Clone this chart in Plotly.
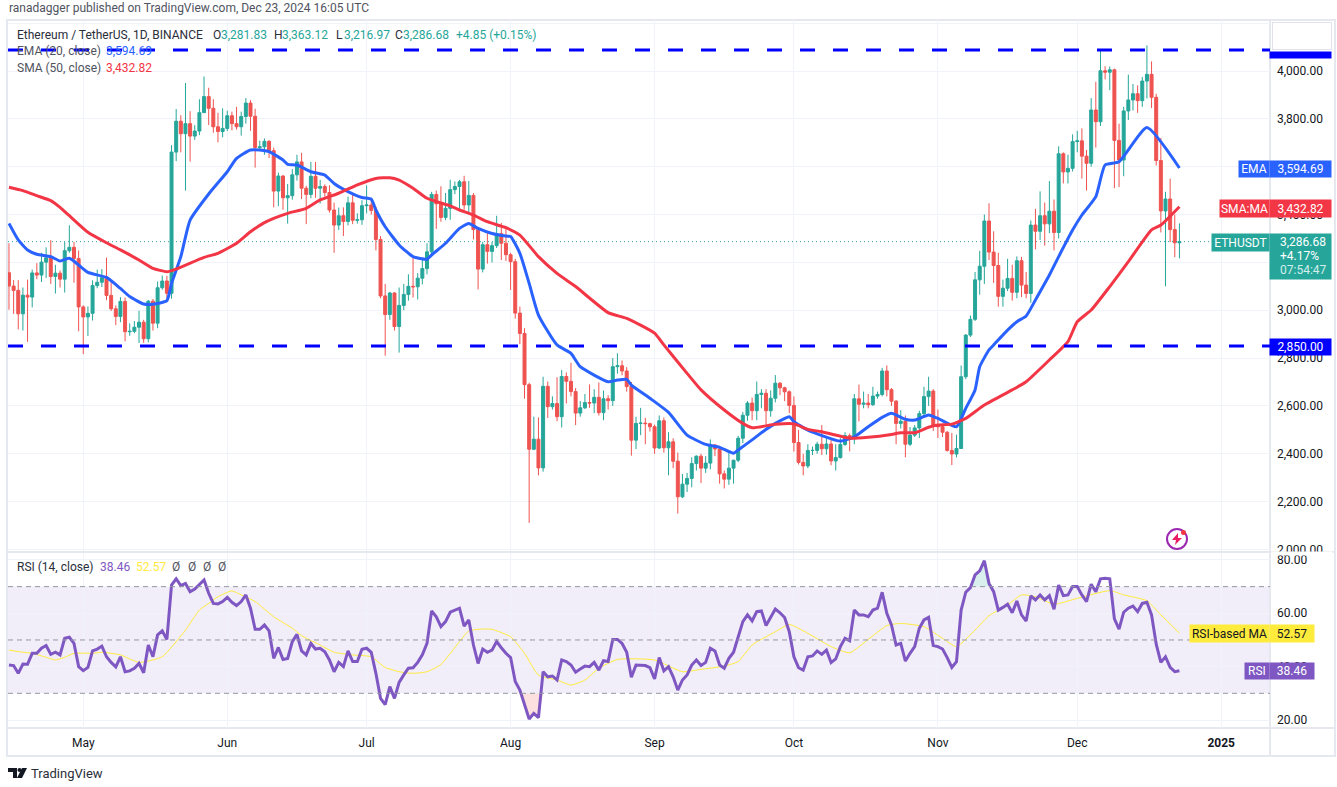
import pandas as pd
import plotly.graph_objects as go

W, H = 1337, 787
FONT = "Roboto"
TEXT = "#131722"
UP = "#26a69a"
DOWN = "#ef5350"

dates = pd.date_range("2024-04-15", "2024-12-23", freq="D")

opens = [
    3157, 3101, 3083, 2985, 3063, 3055, 3156, 3147, 3201, 3219, 3141, 3155, 3130, 3249, 3263, 3216,
    3014, 2972, 2987, 3103, 3117, 3136, 3062, 3006, 2974, 3037, 2910, 2912, 2929, 2950, 2881, 3038,
    2946, 3094, 3122, 3071, 3661, 3790, 3738, 3780, 3728, 3749, 3826, 3893, 3844, 3767, 3747,
    3760, 3813, 3780, 3767, 3810, 3866, 3811, 3680, 3683, 3706, 3667, 3498, 3561, 3470, 3479,
    3566, 3620, 3510, 3484, 3560, 3510, 3517, 3492, 3419, 3356, 3395, 3371, 3449, 3376, 3378,
    3437, 3440, 3417, 3296, 3060, 2982, 3072, 2932, 3020, 3066, 3100, 3098, 3134, 3174, 3244,
    3484, 3445, 3388, 3426, 3504, 3517, 3537, 3440, 3480, 3337, 3172, 3274, 3246, 3270, 3320, 3280,
    3232, 3203, 2988, 2903, 2689, 2419, 2461, 2341, 2682, 2597, 2610, 2555, 2723, 2703, 2660,
    2570, 2592, 2614, 2612, 2636, 2572, 2630, 2622, 2764, 2768, 2746, 2681, 2457, 2527, 2528, 2526,
    2513, 2424, 2538, 2425, 2450, 2369, 2220, 2273, 2297, 2359, 2390, 2340, 2361, 2437, 2420,
    2316, 2294, 2340, 2373, 2465, 2561, 2612, 2580, 2648, 2653, 2580, 2632, 2695, 2676, 2659,
    2602, 2447, 2364, 2349, 2414, 2414, 2440, 2421, 2441, 2370, 2384, 2439, 2476, 2466, 2630,
    2607, 2612, 2605, 2641, 2648, 2746, 2668, 2620, 2527, 2536, 2440, 2478, 2508, 2568, 2639, 2662,
    2518, 2513, 2490, 2414, 2399, 2422, 2722, 2896, 2962, 3127, 3184, 3373, 3243, 3187, 3058,
    3092, 3133, 3075, 3207, 3105, 3070, 3356, 3330, 3395, 3361, 3414, 3325, 3654, 3578, 3593,
    3705, 3708, 3644, 3614, 3837, 3788, 4001, 3995, 4005, 3710, 3628, 3833, 3879, 3905, 3876,
    3958, 3986, 3890, 3626, 3415, 3465, 3337, 3281.83,
]
highs = [
    3280, 3126, 3126, 3095, 3128, 3170, 3197, 3240, 3263, 3293, 3190, 3166, 3285, 3355, 3285, 3250,
    3020, 3016, 3125, 3170, 3172, 3220, 3125, 3020, 3055, 3053, 2945, 2955, 2998, 2960, 3043, 3047,
    3120, 3145, 3144, 3690, 3841, 3815, 3950, 3832, 3774, 3882, 3977, 3930, 3882, 3825, 3844,
    3834, 3830, 3850, 3830, 3887, 3878, 3842, 3709, 3718, 3711, 3680, 3575, 3565, 3528, 3590,
    3650, 3658, 3520, 3620, 3620, 3545, 3526, 3522, 3450, 3429, 3430, 3475, 3488, 3405, 3460,
    3522, 3460, 3432, 3310, 3110, 3077, 3075, 3095, 3110, 3150, 3220, 3155, 3210, 3280, 3495,
    3500, 3518, 3490, 3545, 3538, 3545, 3562, 3540, 3490, 3345, 3285, 3330, 3285, 3395, 3365, 3350,
    3240, 3215, 3015, 2925, 2697, 2555, 2552, 2722, 2702, 2640, 2720, 2750, 2740, 2780, 2675,
    2620, 2650, 2690, 2670, 2698, 2664, 2645, 2800, 2820, 2790, 2762, 2700, 2555, 2592, 2550, 2530,
    2522, 2560, 2552, 2490, 2465, 2405, 2315, 2320, 2385, 2393, 2400, 2390, 2460, 2440, 2420,
    2330, 2410, 2375, 2475, 2575, 2620, 2635, 2702, 2670, 2670, 2665, 2729, 2700, 2680, 2665,
    2640, 2500, 2400, 2440, 2430, 2450, 2520, 2465, 2465, 2440, 2465, 2490, 2485, 2650, 2689,
    2660, 2650, 2680, 2660, 2759, 2769, 2675, 2625, 2582, 2560, 2512, 2520, 2580, 2680, 2722, 2670,
    2585, 2525, 2495, 2487, 2480, 2769, 2900, 2978, 3160, 3248, 3400, 3447, 3330, 3240, 3128,
    3215, 3190, 3225, 3223, 3160, 3375, 3424, 3497, 3450, 3540, 3463, 3685, 3660, 3650, 3735,
    3750, 3760, 3670, 3887, 3955, 4090, 4020, 4019, 4010, 3780, 3850, 3985, 3946, 3940, 3975,
    4107, 4040, 3905, 3720, 3495, 3550, 3400, 3363.12,
]
lows = [
    3002, 2985, 2920, 2915, 2868, 3012, 3130, 3118, 3135, 3110, 3070, 3095, 3074, 3240, 3115, 2912,
    2817, 2892, 2957, 3092, 3097, 3042, 2997, 2938, 2950, 2870, 2893, 2904, 2863, 2864, 2866, 2915,
    2925, 3086, 3050, 3048, 3623, 3660, 3500, 3621, 3712, 3732, 3826, 3774, 3742, 3702, 3723,
    3749, 3752, 3755, 3730, 3780, 3750, 3596, 3668, 3650, 3636, 3430, 3435, 3420, 3362, 3462,
    3542, 3465, 3360, 3468, 3470, 3446, 3475, 3408, 3240, 3335, 3310, 3355, 3360, 3362, 3357,
    3405, 3400, 3250, 3050, 2810, 2960, 2915, 2823, 3000, 3040, 3053, 3045, 3108, 3150, 3222,
    3340, 3370, 3376, 3378, 3485, 3415, 3420, 3400, 3296, 3087, 3158, 3195, 3200, 3260, 3210, 3206,
    3085, 2965, 2858, 2630, 2111, 2415, 2310, 2325, 2550, 2585, 2536, 2510, 2610, 2640, 2520,
    2555, 2587, 2592, 2570, 2560, 2540, 2585, 2600, 2735, 2728, 2660, 2392, 2420, 2478, 2440, 2493,
    2400, 2420, 2405, 2310, 2340, 2150, 2215, 2240, 2260, 2330, 2278, 2320, 2335, 2390, 2275,
    2255, 2270, 2275, 2365, 2445, 2538, 2540, 2540, 2590, 2520, 2555, 2615, 2645, 2620, 2570,
    2409, 2355, 2310, 2340, 2395, 2400, 2395, 2396, 2352, 2330, 2380, 2433, 2410, 2440, 2535,
    2590, 2590, 2600, 2630, 2640, 2640, 2600, 2440, 2506, 2385, 2432, 2470, 2466, 2560, 2600, 2495,
    2466, 2470, 2409, 2353, 2385, 2422, 2712, 2888, 2955, 3065, 3110, 3210, 3114, 3015, 3015,
    3080, 3040, 3050, 3055, 3050, 3031, 3255, 3294, 3270, 3322, 3250, 3300, 3530, 3530, 3580,
    3660, 3550, 3500, 3600, 3680, 3770, 3965, 3920, 3510, 3515, 3560, 3795, 3835, 3825, 3850,
    3885, 3845, 3605, 3325, 3100, 3285, 3222, 3216.97,
]
closes = [
    3101, 3083, 2985, 3063, 3055, 3156, 3147, 3201, 3219, 3141, 3155, 3130, 3249, 3263, 3216, 3014,
    2972, 2987, 3103, 3117, 3136, 3062, 3006, 2974, 3037, 2910, 2912, 2929, 2950, 2881, 3038, 2946,
    3094, 3122, 3071, 3661, 3790, 3738, 3780, 3728, 3749, 3826, 3893, 3844, 3767, 3747, 3760,
    3813, 3780, 3767, 3810, 3866, 3811, 3680, 3683, 3706, 3667, 3498, 3561, 3470, 3479, 3566,
    3620, 3510, 3484, 3560, 3510, 3517, 3492, 3419, 3356, 3395, 3371, 3449, 3376, 3378, 3437,
    3440, 3417, 3296, 3060, 2982, 3072, 2932, 3020, 3066, 3100, 3098, 3134, 3174, 3244, 3484,
    3445, 3388, 3426, 3504, 3517, 3537, 3440, 3480, 3337, 3172, 3274, 3246, 3270, 3320, 3280, 3232,
    3203, 2988, 2903, 2689, 2419, 2461, 2341, 2682, 2597, 2610, 2555, 2723, 2703, 2660, 2570,
    2592, 2614, 2612, 2636, 2572, 2630, 2622, 2764, 2768, 2746, 2681, 2457, 2527, 2528, 2526, 2513,
    2424, 2538, 2425, 2450, 2369, 2220, 2273, 2297, 2359, 2390, 2340, 2361, 2437, 2420, 2316,
    2294, 2340, 2373, 2465, 2561, 2612, 2580, 2648, 2653, 2580, 2632, 2695, 2676, 2659, 2602,
    2447, 2364, 2349, 2414, 2414, 2440, 2421, 2441, 2370, 2384, 2439, 2476, 2466, 2630, 2607,
    2612, 2605, 2641, 2648, 2746, 2668, 2620, 2527, 2536, 2440, 2478, 2508, 2568, 2639, 2662, 2518,
    2513, 2490, 2414, 2399, 2422, 2722, 2896, 2962, 3127, 3184, 3373, 3243, 3187, 3058, 3092,
    3133, 3075, 3207, 3105, 3070, 3356, 3330, 3395, 3361, 3414, 3325, 3654, 3578, 3593, 3705,
    3708, 3644, 3614, 3837, 3788, 4001, 3995, 4005, 3710, 3628, 3833, 3879, 3905, 3876, 3958,
    3986, 3890, 3626, 3415, 3465, 3337, 3281.83, 3286.68,
]

ema_dates = [
    "2024-04-15", "2024-04-17", "2024-04-19", "2024-04-21", "2024-04-24", "2024-04-26", "2024-04-28", "2024-04-30",
    "2024-05-02", "2024-05-06", "2024-05-09", "2024-05-11", "2024-05-14", "2024-05-16", "2024-05-19", "2024-05-20",
    "2024-05-22", "2024-05-24", "2024-05-28", "2024-06-01", "2024-06-03", "2024-06-06", "2024-06-08", "2024-06-10",
    "2024-06-13", "2024-06-14", "2024-06-16", "2024-06-19", "2024-06-22", "2024-06-24", "2024-06-27", "2024-06-30",
    "2024-07-02", "2024-07-03", "2024-07-05", "2024-07-08", "2024-07-11", "2024-07-14", "2024-07-15", "2024-07-18",
    "2024-07-21", "2024-07-23", "2024-07-25", "2024-07-28", "2024-07-31", "2024-08-01", "2024-08-03", "2024-08-05",
    "2024-08-07", "2024-08-11", "2024-08-14", "2024-08-16", "2024-08-22", "2024-08-24", "2024-08-26", "2024-08-27",
    "2024-08-31", "2024-09-04", "2024-09-08", "2024-09-12", "2024-09-15", "2024-09-18", "2024-09-19", "2024-09-22",
    "2024-09-24", "2024-09-27", "2024-09-30", "2024-10-01", "2024-10-04", "2024-10-11", "2024-10-14", "2024-10-17",
    "2024-10-20", "2024-10-22", "2024-10-25", "2024-10-27", "2024-10-30", "2024-11-01", "2024-11-05", "2024-11-07",
    "2024-11-09", "2024-11-10", "2024-11-12", "2024-11-13", "2024-11-16", "2024-11-18", "2024-11-20", "2024-11-22",
    "2024-11-25", "2024-11-27", "2024-11-30", "2024-12-02", "2024-12-05", "2024-12-07", "2024-12-10", "2024-12-16",
    "2024-12-23",
]
ema_values = [
    3363, 3294, 3252, 3234, 3224, 3206, 3217, 3189,
    3158, 3137, 3091, 3057, 3026, 3025, 3040, 3112,
    3224, 3377, 3486, 3579, 3635, 3670, 3670, 3663,
    3628, 3610, 3607, 3579, 3565, 3530, 3496, 3471,
    3464, 3419, 3349, 3273, 3224, 3213, 3231, 3280,
    3342, 3363, 3342, 3321, 3310, 3308, 3238, 3112,
    2980, 2855, 2820, 2764, 2701, 2708, 2711, 2687,
    2632, 2573, 2478, 2439, 2427, 2402, 2416, 2458,
    2488, 2527, 2555, 2534, 2499, 2453, 2471, 2513,
    2552, 2569, 2544, 2541, 2562, 2548, 2513, 2590,
    2667, 2764, 2834, 2855, 2917, 2952, 2976, 3043,
    3147, 3224, 3335, 3398, 3475, 3607, 3621, 3764,
    3594.69,
]

sma_dates = [
    "2024-04-15", "2024-04-18", "2024-04-21", "2024-04-24", "2024-04-26", "2024-04-28", "2024-05-02", "2024-05-06",
    "2024-05-09", "2024-05-13", "2024-05-16", "2024-05-19", "2024-05-21", "2024-05-27", "2024-05-30", "2024-06-03",
    "2024-06-06", "2024-06-09", "2024-06-11", "2024-06-14", "2024-06-18", "2024-06-21", "2024-06-25", "2024-06-29",
    "2024-07-03", "2024-07-06", "2024-07-08", "2024-07-11", "2024-07-14", "2024-07-19", "2024-07-21", "2024-07-24",
    "2024-07-27", "2024-07-31", "2024-08-03", "2024-08-07", "2024-08-11", "2024-08-15", "2024-08-22", "2024-08-26",
    "2024-09-01", "2024-09-03", "2024-09-08", "2024-09-11", "2024-09-16", "2024-09-20", "2024-09-22", "2024-09-27",
    "2024-10-01", "2024-10-04", "2024-10-07", "2024-10-13", "2024-10-17", "2024-10-22", "2024-10-24", "2024-10-27",
    "2024-10-30", "2024-11-01", "2024-11-04", "2024-11-07", "2024-11-11", "2024-11-17", "2024-11-20", "2024-11-25",
    "2024-11-29", "2024-12-01", "2024-12-04", "2024-12-08", "2024-12-12", "2024-12-17", "2024-12-19", "2024-12-23",
]
sma_values = [
    3514, 3500, 3479, 3458, 3430, 3395, 3326, 3282,
    3252, 3210, 3175, 3161, 3172, 3221, 3238, 3280,
    3328, 3366, 3384, 3405, 3426, 3461, 3489, 3524,
    3551, 3554, 3544, 3510, 3468, 3436, 3419, 3398,
    3370, 3345, 3314, 3224, 3154, 3099, 2990, 2966,
    2904, 2855, 2736, 2667, 2583, 2527, 2509, 2523,
    2525, 2502, 2492, 2465, 2469, 2481, 2488, 2488,
    2511, 2520, 2524, 2548, 2604, 2667, 2701, 2792,
    2869, 2952, 3001, 3099, 3203, 3336, 3356, 3432.82,
]

rsi_values = [
    40.6, 40.4, 37.5, 41, 40.9, 45, 45, 46.9, 47.9, 44.6, 45.4, 44.4, 50.6, 51, 48.7, 40,
    38.5, 39.7, 45.9, 46.6, 47.7, 43.7, 41.6, 39.9, 43.7, 38.1, 38.4, 39.4, 41.2, 37.7, 48.1, 43.7,
    51.9, 53.4, 50.2, 70.6, 72.9, 70.4, 71.2, 68.1, 69.1, 71, 72.5, 67.5, 63.7, 63.5, 64.4,
    66, 64.1, 62.9, 64.4, 66.9, 61.9, 54, 54, 55.6, 53.4, 43.1, 47.2, 42.7, 43.1, 49.4,
    52.1, 45.9, 44.4, 48.7, 46.6, 46.9, 45.6, 42.5, 38.1, 41.6, 40, 45.9, 41.9, 41.9, 46.5,
    46.9, 45.4, 37.5, 28.1, 25.8, 32.5, 28.1, 34.1, 36.9, 39.4, 39.6, 41.6, 44.4, 48.7, 60.9,
    58.7, 55, 56.9, 60.4, 61.1, 61.9, 55.2, 57.5, 48.1, 41.2, 46.6, 45.4, 46.2, 49.4, 47.1, 45,
    43.4, 34.4, 31.2, 25.4, 20.4, 22.5, 20.9, 38.1, 36.2, 36.5, 35, 42.5, 41.9, 40.6, 37.9,
    39.1, 40.2, 40, 41.6, 38.7, 42.2, 41.9, 50.2, 50.2, 48.7, 45.4, 36, 40.6, 40.4, 40.4, 39.6,
    35.4, 43.4, 38.4, 40, 36.2, 31.2, 35, 36.9, 40.6, 42.5, 40.4, 41.6, 46.9, 45.9, 40.6,
    39.4, 43.1, 45.4, 51.2, 56.9, 59.4, 57.1, 60.6, 60.9, 55.4, 58.7, 61.6, 60.2, 58.4, 53.1,
    43.7, 39.6, 38.7, 43.7, 44, 45.9, 44.6, 46.2, 41.5, 42.9, 47.5, 50.6, 49.7, 61.2, 59.4,
    59.4, 58.7, 61.2, 61.9, 67.9, 60, 55.6, 48.1, 48.7, 42.1, 45, 47.5, 54.4, 57.5, 58.5, 47.9,
    47.5, 46.6, 43.4, 39.7, 41.9, 61.2, 67.9, 69.6, 74.4, 75.9, 79.7, 71.2, 68.1, 61.2, 62.2,
    63.4, 60.2, 64.6, 59.4, 57.1, 66.5, 65, 66.9, 65, 66.6, 61.5, 70.6, 66.6, 66.9, 70,
    70, 66.9, 64.4, 70.9, 68.1, 72.9, 73.1, 72.9, 57.9, 54.1, 60.4, 61.9, 62.7, 60.6, 63.7,
    64.1, 59.4, 48.4, 41.6, 43.7, 39.7, 38.1, 38.46,
]

rsi_ma_dates = [
    "2024-04-15", "2024-04-18", "2024-04-20", "2024-04-23", "2024-04-25", "2024-04-27", "2024-04-29", "2024-05-03",
    "2024-05-05", "2024-05-09", "2024-05-13", "2024-05-18", "2024-05-23", "2024-05-26", "2024-05-28", "2024-05-30",
    "2024-06-02", "2024-06-04", "2024-06-07", "2024-06-11", "2024-06-15", "2024-06-17", "2024-06-21", "2024-06-24",
    "2024-06-28", "2024-07-02", "2024-07-05", "2024-07-08", "2024-07-11", "2024-07-14", "2024-07-17", "2024-07-21",
    "2024-07-23", "2024-07-26", "2024-07-28", "2024-08-01", "2024-08-04", "2024-08-07", "2024-08-11", "2024-08-14",
    "2024-08-17", "2024-08-20", "2024-08-24", "2024-09-01", "2024-09-07", "2024-09-11", "2024-09-16", "2024-09-19",
    "2024-09-22", "2024-09-27", "2024-09-30", "2024-10-04", "2024-10-09", "2024-10-13", "2024-10-17", "2024-10-21",
    "2024-10-24", "2024-10-29", "2024-11-02", "2024-11-05", "2024-11-09", "2024-11-12", "2024-11-16", "2024-11-19",
    "2024-11-22", "2024-11-26", "2024-12-01", "2024-12-08", "2024-12-11", "2024-12-16", "2024-12-19", "2024-12-23",
]
rsi_ma_values = [
    46.2, 45.4, 45, 43.5, 42.5, 43.5, 45, 45,
    45.4, 44.4, 41.6, 43.7, 53.7, 61.2, 63.7, 66.2,
    68.4, 66.9, 64.4, 58.7, 54.4, 51.6, 48.1, 45.4,
    44.4, 43.7, 39.7, 38.1, 37.5, 38.1, 40.8, 49.4,
    53.4, 54.1, 54, 51.2, 45, 36.8, 35, 33.1,
    35, 39.4, 42.7, 42.5, 38.1, 39, 40.2, 41.9,
    48.1, 53.1, 55.8, 52.5, 47.5, 45.2, 50.2, 55.4,
    56.2, 55, 50.6, 47.5, 53.7, 59.1, 63.1, 66.9,
    66.2, 63.4, 65.6, 68.5, 66.9, 64.7, 59.4, 52.57,
]

# pale patches where RSI leaves the 30-70 band
rsi_low_dates = ["2024-08-03", "2024-08-04", "2024-08-05", "2024-08-06", "2024-08-07", "2024-08-08"]
rsi_low_values = [30, 25.4, 20.4, 22.5, 20.9, 30]
rsi_high_dates = ["2024-11-08", "2024-11-09", "2024-11-10", "2024-11-11", "2024-11-12", "2024-11-13"]
rsi_high_values = [70, 74.4, 75.9, 79.7, 71.2, 70]

level_values = [4088, 2850]
last_price = 3286.68

price_ticks = [2000, 2200, 2400, 2600, 2800, 3000, 3200, 3400, 3600, 3800, 4000, 4200]
price_labels = ["2,000.00", "2,200.00", "2,400.00", "2,600.00", "2,800.00", "3,000.00", "", "3,400.00", "", "3,800.00", "4,000.00", ""]
rsi_ticks = [20, 40, 60, 80]
rsi_labels = ["20.00", "40.00", "60.00", "80.00"]
month_ticks = ["2024-05-01", "2024-06-01", "2024-07-01", "2024-08-01", "2024-09-01", "2024-10-01", "2024-11-01", "2024-12-01", "2025-01-01"]
month_labels = ["May", "Jun", "Jul", "Aug", "Sep", "Oct", "Nov", "Dec", "<b>2025</b>"]

X_RANGE = ["2024-04-14 19:00", "2025-01-11 12:00"]
GRID = "#f0f3fa"
FRAME = "#e6e8f0"


def px(x):
    return x / W


def py(y):
    return 1 - y / H


def text(x, y, s, color=TEXT, size=12, anchor="left"):
    fig.add_annotation(xref="paper", yref="paper", x=px(x), y=py(y), text=s, showarrow=False,
                       xanchor=anchor, yanchor="middle", borderpad=0,
                       font=dict(family=FONT, size=size, color=color))


def tag(x0, x1, y0, y1, fill, s, color="white", size=12, border=None):
    fig.add_annotation(xref="paper", yref="paper", x=px((x0 + x1) / 2), y=py((y0 + y1) / 2), text=s,
                       showarrow=False, xanchor="center", yanchor="middle", width=x1 - x0, height=y1 - y0,
                       bgcolor=fill, borderpad=0, align="center", bordercolor=border,
                       font=dict(family=FONT, size=size, color=color))


def paper_shape(kind, x0, y0, x1, y1, **kw):
    fig.add_shape(type=kind, xref="paper", yref="paper", x0=px(x0), x1=px(x1), y0=py(y0), y1=py(y1), **kw)


def paper_path(points, fill):
    d = "M" + " L".join(f"{px(a):.5f},{py(b):.5f}" for a, b in points) + " Z"
    fig.add_shape(type="path", xref="paper", yref="paper", path=d, fillcolor=fill, line_width=0, layer="above")


fig = go.Figure()

fig.add_trace(go.Candlestick(
    x=dates, open=opens, high=highs, low=lows, close=closes, whiskerwidth=0,
    increasing=dict(line=dict(color=UP, width=1), fillcolor=UP),
    decreasing=dict(line=dict(color=DOWN, width=1), fillcolor=DOWN),
    xaxis="x", yaxis="y",
))
fig.add_trace(go.Scatter(x=X_RANGE, y=[last_price, last_price], mode="lines",
                         line=dict(color=UP, width=1, dash="1px,3px"), xaxis="x", yaxis="y"))
fig.add_trace(go.Scatter(x=ema_dates, y=ema_values, mode="lines",
                         line=dict(color="#2962ff", width=3, shape="spline", smoothing=0.5),
                         xaxis="x", yaxis="y"))
fig.add_trace(go.Scatter(x=sma_dates, y=sma_values, mode="lines",
                         line=dict(color="#f23645", width=3, shape="spline", smoothing=0.5),
                         xaxis="x", yaxis="y"))
for level in level_values:
    fig.add_trace(go.Scatter(x=X_RANGE, y=[level, level], mode="lines",
                             line=dict(color="#0000ff", width=3, dash="15px,18px"), xaxis="x", yaxis="y"))

fig.add_trace(go.Scatter(x=rsi_low_dates, y=rsi_low_values, mode="lines", fill="toself", line_width=0,
                         fillcolor="rgba(239,83,80,0.18)", xaxis="x2", yaxis="y2"))
fig.add_trace(go.Scatter(x=rsi_high_dates, y=rsi_high_values, mode="lines", fill="toself", line_width=0,
                         fillcolor="rgba(38,166,154,0.18)", xaxis="x2", yaxis="y2"))
fig.add_trace(go.Scatter(x=rsi_ma_dates, y=rsi_ma_values, mode="lines",
                         line=dict(color="#ffeb3b", width=1, shape="spline", smoothing=0.5),
                         xaxis="x2", yaxis="y2"))
fig.add_trace(go.Scatter(x=dates, y=rsi_values, mode="lines", line=dict(color="#7e57c2", width=3),
                         xaxis="x2", yaxis="y2"))

# RSI band and its dashed levels
fig.add_shape(type="rect", xref="x2 domain", yref="y2", x0=0, x1=1, y0=30, y1=70,
              fillcolor="rgba(126,87,194,0.1)", line_width=0, layer="below")
for level in [70, 50, 30]:
    fig.add_shape(type="line", xref="x2 domain", yref="y2", x0=0, x1=1, y0=level, y1=level,
                  line=dict(color="#9598a1", width=1, dash="5px,4px"))

# frame around the panes
paper_shape("rect", 7, 20, 1335, 756, line=dict(color=FRAME, width=2), layer="below")
paper_shape("line", 1270, 20, 1270, 756, line=dict(color=FRAME, width=2), layer="below")
paper_shape("line", 7, 552, 1335, 552, line=dict(color=FRAME, width=2), layer="below")
paper_shape("line", 7, 728, 1335, 728, line=dict(color=FRAME, width=2), layer="below")

axis_font = dict(family=FONT, size=12, color=TEXT)
fig.update_layout(
    width=W, height=H, margin=dict(l=0, r=0, t=0, b=0, autoexpand=False), paper_bgcolor="white", plot_bgcolor="white",
    showlegend=False, hovermode=False, boxgap=0.2, boxgroupgap=0.2,
    xaxis=dict(domain=[px(8), px(1270)], range=X_RANGE, type="date", anchor="y", rangeslider_visible=False,
               tickvals=month_ticks, showticklabels=False, gridcolor=GRID, zeroline=False),
    yaxis=dict(domain=[py(551), py(20)], range=[1993.6, 4213.2], anchor="x", side="right",
               tickvals=price_ticks, ticktext=price_labels, gridcolor=GRID, zeroline=False,
               tickfont=axis_font, ticklabelstandoff=6),
    xaxis2=dict(domain=[px(8), px(1270)], range=X_RANGE, type="date", anchor="y2", matches="x",
                tickvals=month_ticks, ticktext=month_labels, gridcolor=GRID, zeroline=False,
                tickfont=axis_font, ticklabelstandoff=6),
    yaxis2=dict(domain=[py(728), py(553)], range=[17, 82.6], anchor="x2", side="right",
                tickvals=rsi_ticks, ticktext=rsi_labels, gridcolor=GRID, zeroline=False,
                tickfont=axis_font, ticklabelstandoff=6),
)

# header and legends
text(8, 8, "ranadagger published on TradingView.com, Dec 23, 2024 16:05 UTC", color="#50535e")
text(16, 35, "Ethereum / TetherUS, 1D, BINANCE", color="#2a2e39")
for x, letter, value in [(212, "O", "3,281.83"), (273, "H", "3,363.12"), (335, "L", "3,216.97"), (394, "C", "3,286.68")]:
    text(x, 35, letter, color="#2a2e39")
    text(x + 8, 35, value, color=UP)
text(455, 35, "+4.85 (+0.15%)", color=UP)
text(16, 51, "EMA (20, close)", color="#50535e")
text(105, 51, "3,594.69", color="#2962ff")
text(16, 68, "SMA (50, close)", color="#50535e")
text(105, 68, "3,432.82", color="#f23645")
text(16, 567, "RSI (14, close)", color="#2a2e39")
text(99, 567, "38.46", color="#7e57c2")
text(135, 567, "52.57", color="#ffeb3b")
for x in [176, 192, 207, 222]:
    text(x, 567, "Ø", color="#50535e", anchor="center")

# price scale tags
tag(1270, 1331, 52, 58, "#0000ff", " ", size=1)
tag(1273, 1331, 23, 49, "white", "USDT", border="#e0e3eb")
tag(1270, 1331, 339, 355, "#0000ff", "2,850.00")
tag(1239, 1269, 161, 177, "#2962ff", "EMA")
tag(1270, 1331, 161, 177, "#2962ff", "3,594.69")
tag(1220, 1269, 200, 217, "#f23645", "SMA:MA")
tag(1270, 1331, 200, 217, "#f23645", "3,432.82")
tag(1212, 1269, 234, 251, UP, "ETHUSDT")
tag(1270, 1331, 234, 279, UP, " ")
text(1279, 242, "3,286.68", color="white")
text(1279, 256, "+4.17%", color="white")
text(1279, 270, "07:54:47", color="#d4eeeb")
tag(1190, 1269, 625, 642, "#ffeb3b", "RSI-based MA", color=TEXT)
tag(1270, 1314, 625, 642, "#ffeb3b", "52.57", color=TEXT)
tag(1245, 1269, 663, 679, "#7e57c2", "RSI")
tag(1270, 1314, 663, 679, "#7e57c2", "38.46")
# the 2,000.00 label is cut off by the RSI pane
tag(1272, 1332, 552, 555, "white", " ", size=1)

# lightning badge
paper_shape("circle", 1167, 529, 1187, 549, line=dict(color="#9c27b0", width=2), fillcolor="white", layer="above")
paper_path([(1178, 533), (1172, 540), (1176, 540), (1175, 545), (1182, 538), (1178, 538)], "#e91e63")
paper_shape("circle", 1181, 530, 1186, 535, line_width=0, fillcolor="#f23645", layer="above")

# footer logo
paper_path([(8, 768), (17, 768), (17, 778), (13, 778), (13, 772), (8, 772)], TEXT)
paper_shape("circle", 17.5, 768, 21.5, 772, line_width=0, fillcolor=TEXT, layer="above")
paper_path([(22, 768), (27, 768), (22, 778), (17, 778)], TEXT)
text(30, 773, "TradingView", color="#2a2e39", size=13)

# the default page has an 8px body margin, which would push the 1337x787 figure off the window
fig.write_html("out.html", config={"displayModeBar": False}, post_script="document.body.style.margin = '0';")
